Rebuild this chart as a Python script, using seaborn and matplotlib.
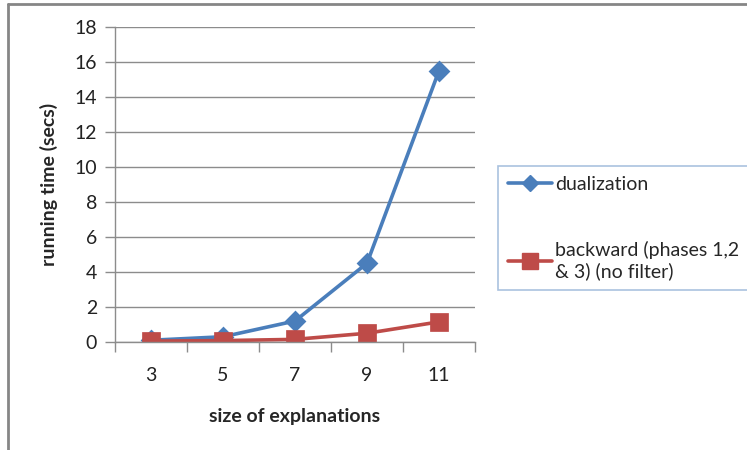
import numpy as np
import matplotlib.pyplot as plt
import matplotlib.lines as mlines
import pandas as pd
import seaborn as sns

sns.set_style("white")
plt.rcParams['font.family'] = ['Lato', 'DejaVu Sans']

# data
sizes = ["3", "5", "7", "9", "11"]
dualization = [0.1, 0.3, 1.2, 4.5, 15.5]
backward = [0.05, 0.08, 0.15, 0.5, 1.15]
labels = ["dualization", "backward (phases 1,2\n& 3) (no filter)"]
yticks = [0, 2, 4, 6, 8, 10, 12, 14, 16, 18]

df = pd.DataFrame({
    "size": sizes * 2,
    "time": dualization + backward,
    "method": [labels[0]] * len(sizes) + [labels[1]] * len(sizes),
})

blue = "#4A7EBB"
red = "#BE4B48"
grid_c = "#8C8C8C"
fs = 14

fig = plt.figure(figsize=(7.47, 4.5), dpi=100)
ax = fig.add_axes([115 / 747, 1 - 342 / 450, 360 / 747, 315 / 450])

sns.pointplot(data=df, x="size", y="time", hue="method", order=sizes,
              hue_order=labels, palette=[blue, red], markers=["D", "s"],
              linestyles=["-", "-"], markersize=9, linewidth=2.6,
              errorbar=None, ax=ax, legend=False)
# bigger squares for the red series
if len(ax.lines) > 1:
    ax.lines[1].set_markersize(12)

ax.set_xlim(-0.5, 4.5)
ax.set_ylim(0, 18)
ax.set_yticks(yticks)
ax.yaxis.grid(True, color=grid_c, linewidth=1)
ax.set_axisbelow(True)
for s in ["top", "right"]:
    ax.spines[s].set_visible(False)
for s in ["left", "bottom"]:
    ax.spines[s].set_color(grid_c)
    ax.spines[s].set_linewidth(1)

ax.tick_params(axis="y", length=7, color=grid_c, width=1, labelsize=fs,
               pad=6, left=True, labelcolor="#222222")
ax.set_xticks(np.arange(-0.5, 5, 1), minor=False)
ax.set_xticklabels([])
ax.tick_params(axis="x", which="major", length=7, color=grid_c, width=1,
               bottom=True)
ax.set_xticks(range(len(sizes)), minor=True)
ax.set_xticklabels(sizes, minor=True)
ax.tick_params(axis="x", which="minor", length=0, labelsize=fs, pad=18,
               labelcolor="#222222")

ax.set_xlabel("size of explanations", fontsize=fs, fontweight="bold",
              labelpad=17)
ax.set_ylabel("running time (secs)", fontsize=fs, fontweight="bold",
              labelpad=12)

handles = [
    mlines.Line2D([], [], color=blue, marker="D", markersize=8, linewidth=2.6),
    mlines.Line2D([], [], color=red, marker="s", markersize=11, linewidth=2.6),
]
leg = fig.legend(handles, labels, loc="upper left",
                 bbox_to_anchor=(498 / 747, 1 - 166 / 450),
                 frameon=True, fancybox=False, fontsize=fs,
                 handlelength=2.3, handletextpad=0.15, labelspacing=2.5,
                 borderpad=0.5, borderaxespad=0)
leg.get_frame().set_edgecolor("#95B3D7")
leg.get_frame().set_linewidth(1.2)

# outer chart border (left and top edges visible)
fig.add_artist(mlines.Line2D([7.5 / 747, 7.5 / 747], [0, 1 - 4 / 450],
                             transform=fig.transFigure, color="#868686",
                             linewidth=2))
fig.add_artist(mlines.Line2D([7.5 / 747, 1], [1 - 4 / 450, 1 - 4 / 450],
                             transform=fig.transFigure, color="#868686",
                             linewidth=2))

fig.savefig("out.png", dpi=100)
